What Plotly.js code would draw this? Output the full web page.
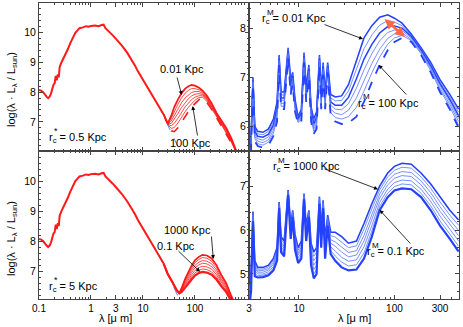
<!DOCTYPE html>
<html>
<head>
<meta charset="utf-8">
<script src="https://cdn.plot.ly/plotly-3.0.1.min.js"></script>
<style>
  html, body { margin: 0; padding: 0; background: #fff; }
  #plot { width: 463px; height: 327px; }
</style>
</head>
<body>
<div id="plot"></div>
<script>
// stellar part, same in both left panels (lambda in micron, log L)
var starWl = [0.1,0.11,0.12,0.13,0.14,0.15,0.16,0.17,0.18,0.19,0.2,0.21,0.22,0.23,0.24,0.25,0.27,0.29,0.31,0.33,0.36,0.4,0.45,0.5,0.55,0.6,0.7,0.8,0.9,1.0,1.2,1.4,1.6,1.75,1.9,2.2,2.6,3.0,3.5,4.0,5.0,6.0,7.0,8.0,9.0,10,12,14,16,18,20,22,25];
var starLum = [8.07,8.05,8.0,7.9,7.85,7.8,7.85,7.95,8.15,8.25,8.3,8.55,8.4,8.6,8.5,8.85,9.0,9.1,9.2,9.3,9.45,9.65,9.85,10.0,10.08,10.15,10.18,10.22,10.2,10.23,10.24,10.22,10.26,10.27,10.15,10.05,9.92,9.8,9.67,9.55,9.32,9.1,8.9,8.7,8.55,8.45,8.22,8.02,7.85,7.7,7.55,7.42,7.25];

// stars only (blue dashed)
var bareWl = [20, 30, 40, 52];
var bareLum = [7.55, 6.9, 6.45, 6.0];

// top left: r*c = 0.5 Kpc, rMc from 0.01 (top) to 100 Kpc (bottom)
var tlWl = [25,30,35,40,47,55,65,75,86,100,120,140,170,210,260,320,400,500,600,700];
var tlLum = [
  [7.25,6.95,7.20,7.50,7.75,7.96,8.12,8.20,8.24,8.22,8.15,8.05,7.88,7.62,7.30,7.05,6.80,6.45,6.12,5.80],
  [7.25,6.94,7.12,7.36,7.59,7.80,7.97,8.06,8.12,8.12,8.08,8.01,7.84,7.59,7.28,7.03,6.76,6.43,6.10,5.79],
  [7.25,6.93,7.03,7.22,7.43,7.64,7.81,7.92,7.99,8.02,8.02,7.96,7.80,7.55,7.25,7.00,6.73,6.40,6.08,5.78],
  [7.25,6.93,6.95,7.09,7.28,7.48,7.66,7.78,7.87,7.93,7.95,7.92,7.77,7.52,7.23,6.98,6.69,6.38,6.06,5.78],
  [7.25,6.92,6.87,6.95,7.12,7.32,7.51,7.63,7.75,7.83,7.88,7.88,7.73,7.49,7.20,6.95,6.65,6.35,6.04,5.77],
  [7.25,6.91,6.78,6.81,6.96,7.16,7.35,7.49,7.62,7.73,7.82,7.83,7.69,7.45,7.18,6.93,6.62,6.33,6.02,5.76],
  [7.25,6.90,6.70,6.67,6.80,7.00,7.20,7.35,7.50,7.63,7.75,7.79,7.65,7.42,7.15,6.90,6.58,6.30,6.00,5.75]
];

// bottom left: r*c = 5 Kpc, rMc from 1000 Kpc (top) to 0.1 Kpc (bottom)
var blWl = [25,30,35,40,45,50,55,65,75,86,100,120,140,170,210,260,320,400,500,600,700];
var blLum = [
  [7.25,6.90,6.70,6.50,6.35,6.27,6.42,6.75,7.00,7.18,7.36,7.48,7.54,7.52,7.42,7.20,6.88,6.60,6.18,5.87,5.60],
  [7.25,6.90,6.70,6.50,6.35,6.27,6.40,6.70,6.93,7.10,7.28,7.39,7.45,7.43,7.33,7.12,6.82,6.55,6.15,5.85,5.58],
  [7.25,6.90,6.70,6.50,6.35,6.27,6.38,6.65,6.87,7.03,7.19,7.30,7.35,7.33,7.24,7.04,6.75,6.50,6.12,5.83,5.57],
  [7.25,6.90,6.70,6.50,6.35,6.26,6.36,6.60,6.80,6.95,7.11,7.21,7.26,7.24,7.15,6.96,6.69,6.45,6.09,5.81,5.55],
  [7.25,6.90,6.70,6.50,6.35,6.26,6.34,6.55,6.73,6.87,7.02,7.12,7.16,7.14,7.06,6.88,6.63,6.40,6.06,5.79,5.53],
  [7.25,6.90,6.70,6.50,6.35,6.26,6.32,6.50,6.67,6.80,6.94,7.03,7.07,7.05,6.97,6.80,6.56,6.35,6.03,5.77,5.52],
  [7.25,6.90,6.70,6.50,6.35,6.26,6.30,6.45,6.60,6.72,6.85,6.94,6.97,6.95,6.88,6.72,6.50,6.30,6.00,5.75,5.50]
];

// right panels, mid/far IR
var irWl = [3.0,3.15,3.3,3.45,3.7,4.2,4.8,5.4,5.9,6.2,6.5,7.0,7.7,8.2,8.6,9.1,9.8,10.6,11.3,11.9,12.7,13.4,14.3,15.3,16.4,17.1,17.9,18.8,20.0,21.5,24,28,33,40,48,58,70,85,100,120,150,190,240,300,380,470];

// top right: rMc from 0.01 (top) to 100 Kpc (bottom, dashed)
var trLum = [
  [5.35,5.75,7.00,6.00,5.90,5.88,5.95,6.15,6.50,7.45,6.70,6.70,7.60,6.95,7.10,6.55,6.20,6.35,7.50,6.80,7.25,6.40,6.15,6.30,7.45,6.70,7.30,6.70,7.30,6.65,6.60,6.62,6.85,7.35,7.80,8.05,8.22,8.27,8.20,8.10,7.88,7.60,7.30,6.95,6.65,6.35],
  [5.31,5.71,6.98,5.95,5.85,5.83,5.90,6.09,6.43,7.42,6.64,6.64,7.57,6.90,7.06,6.51,6.18,6.31,7.47,6.75,7.21,6.35,6.10,6.24,7.42,6.64,7.26,6.64,7.27,6.58,6.52,6.53,6.72,7.16,7.58,7.86,8.06,8.15,8.12,8.05,7.85,7.58,7.27,6.91,6.60,6.29],
  [5.27,5.67,6.95,5.90,5.80,5.78,5.84,6.03,6.37,7.38,6.58,6.58,7.53,6.85,7.02,6.47,6.15,6.27,7.43,6.70,7.17,6.30,6.05,6.18,7.38,6.58,7.22,6.58,7.23,6.50,6.43,6.43,6.59,6.97,7.37,7.67,7.90,8.03,8.04,8.00,7.83,7.55,7.23,6.87,6.55,6.22],
  [5.23,5.63,6.93,5.85,5.75,5.72,5.79,5.98,6.30,7.35,6.53,6.53,7.50,6.80,6.98,6.43,6.13,6.23,7.40,6.65,7.13,6.25,6.00,6.13,7.35,6.53,7.18,6.53,7.20,6.43,6.35,6.34,6.46,6.78,7.15,7.48,7.74,7.91,7.96,7.95,7.80,7.53,7.20,6.83,6.50,6.16],
  [5.18,5.58,6.90,5.80,5.70,5.67,5.73,5.92,6.23,7.32,6.47,6.47,7.47,6.75,6.93,6.38,6.10,6.18,7.37,6.60,7.08,6.20,5.95,6.07,7.32,6.47,7.13,6.47,7.17,6.35,6.27,6.24,6.33,6.58,6.93,7.28,7.57,7.79,7.88,7.90,7.77,7.50,7.17,6.78,6.45,6.10],
  [5.14,5.54,6.88,5.75,5.65,5.62,5.68,5.86,6.17,7.28,6.41,6.41,7.43,6.70,6.89,6.34,6.08,6.14,7.33,6.55,7.04,6.15,5.90,6.01,7.28,6.41,7.09,6.41,7.13,6.28,6.18,6.15,6.20,6.39,6.72,7.09,7.41,7.67,7.80,7.85,7.75,7.48,7.13,6.74,6.40,6.03],
  [5.10,5.50,6.85,5.70,5.60,5.57,5.62,5.80,6.10,7.25,6.35,6.35,7.40,6.65,6.85,6.30,6.05,6.10,7.30,6.50,7.00,6.10,5.85,5.95,7.25,6.35,7.05,6.35,7.10,6.20,6.10,6.05,6.07,6.20,6.50,6.90,7.25,7.55,7.72,7.80,7.72,7.45,7.10,6.70,6.35,5.97]
];

// bottom right: rMc from 1000 Kpc (top) to 0.1 Kpc (bottom)
var brLum = [
  [4.60,5.00,6.42,5.30,5.15,5.15,5.20,5.35,5.60,6.64,5.85,5.75,6.91,6.10,6.45,5.90,5.60,5.75,6.83,6.10,6.45,5.70,5.50,5.60,6.76,6.00,6.68,5.80,6.34,5.95,5.95,5.85,5.70,5.75,6.15,6.60,7.00,7.30,7.45,7.52,7.50,7.30,7.05,6.75,6.45,6.23],
  [4.53,4.93,6.38,5.24,5.11,5.11,5.16,5.31,5.55,6.62,5.79,5.69,6.89,6.05,6.43,5.84,5.54,5.68,6.81,6.04,6.43,5.62,5.40,5.50,6.73,5.93,6.65,5.73,6.30,5.87,5.84,5.73,5.60,5.64,6.02,6.48,6.91,7.21,7.36,7.43,7.41,7.21,6.95,6.64,6.34,6.11],
  [4.47,4.87,6.35,5.18,5.07,5.08,5.12,5.26,5.50,6.59,5.73,5.63,6.87,6.00,6.40,5.78,5.48,5.62,6.79,5.98,6.40,5.53,5.30,5.40,6.71,5.87,6.62,5.65,6.26,5.78,5.73,5.62,5.49,5.53,5.88,6.35,6.82,7.12,7.27,7.33,7.31,7.12,6.85,6.53,6.23,5.99],
  [4.40,4.80,6.31,5.13,5.04,5.04,5.09,5.22,5.45,6.57,5.68,5.58,6.86,5.95,6.38,5.73,5.43,5.55,6.77,5.93,6.38,5.45,5.20,5.30,6.68,5.80,6.59,5.58,6.22,5.70,5.63,5.50,5.39,5.43,5.75,6.23,6.73,7.03,7.18,7.24,7.22,7.03,6.75,6.43,6.13,5.87],
  [4.33,4.73,6.27,5.07,5.00,5.00,5.05,5.17,5.40,6.55,5.62,5.52,6.84,5.90,6.35,5.67,5.37,5.48,6.74,5.87,6.35,5.37,5.10,5.20,6.65,5.73,6.56,5.50,6.18,5.62,5.52,5.38,5.29,5.32,5.62,6.10,6.63,6.93,7.08,7.14,7.12,6.93,6.65,6.32,6.02,5.75],
  [4.27,4.67,6.24,5.01,4.96,4.97,5.01,5.13,5.35,6.52,5.56,5.46,6.82,5.85,6.33,5.61,5.31,5.42,6.72,5.81,6.33,5.28,5.00,5.10,6.63,5.67,6.53,5.43,6.14,5.53,5.41,5.27,5.18,5.21,5.48,5.98,6.54,6.84,6.99,7.05,7.03,6.84,6.55,6.21,5.91,5.63],
  [4.20,4.60,6.20,4.95,4.92,4.93,4.97,5.08,5.30,6.50,5.50,5.40,6.80,5.80,6.30,5.55,5.25,5.35,6.70,5.75,6.30,5.20,4.90,5.00,6.60,5.60,6.50,5.35,6.10,5.45,5.30,5.15,5.08,5.10,5.35,5.85,6.45,6.75,6.90,6.95,6.93,6.75,6.45,6.10,5.80,5.51]
];

var RED = 'rgb(255,25,25)';
var BLUE = 'rgb(35,65,255)';
var BLUE_THIN = 'rgb(85,115,255)';

var data = [];

function addLine(x, y, xa, ya, color, width, dash) {
  data.push({
    x: x, y: y, xaxis: xa, yaxis: ya,
    type: 'scatter', mode: 'lines', hoverinfo: 'skip',
    line: {color: color, width: width, dash: dash || 'solid'}
  });
}

// left panels
addLine(bareWl, bareLum, 'x', 'y', 'rgb(110,130,255)', 1, 'dash');
addLine(bareWl, bareLum, 'x3', 'y3', 'rgb(110,130,255)', 1, 'dash');
for (var i = 0; i < tlLum.length; i++) {
  var w = (i == 0) ? 1.8 : 0.8;
  addLine(tlWl, tlLum[i], 'x', 'y', RED, (i == 6) ? 1.6 : w, (i == 6) ? 'dash' : 'solid');
}
for (var i = 0; i < blLum.length; i++) {
  var w = (i == 0) ? 1.7 : (i == 6 ? 2.2 : 0.8);
  addLine(blWl, blLum[i], 'x3', 'y3', RED, w);
}
addLine(starWl, starLum, 'x', 'y', RED, 2);
addLine(starWl, starLum, 'x3', 'y3', RED, 2);

// right panels
for (var i = 0; i < trLum.length; i++) {
  if (i == 6) addLine(irWl, trLum[i], 'x2', 'y2', BLUE, 1.8, 'dash');
  else if (i == 2 || i == 0) addLine(irWl, trLum[i], 'x2', 'y2', BLUE, 1.5);
  else addLine(irWl, trLum[i], 'x2', 'y2', BLUE_THIN, 0.8);
}
for (var i = 0; i < brLum.length; i++) {
  if (i == 6) addLine(irWl, brLum[i], 'x4', 'y4', BLUE, 2.2);
  else if (i == 0) addLine(irWl, brLum[i], 'x4', 'y4', BLUE, 1.6);
  else addLine(irWl, brLum[i], 'x4', 'y4', BLUE_THIN, 0.8);
}

var W = 463, H = 327;
function px(v) { return v / W; }
function py(v) { return 1 - v / H; }

var FONT = 'Liberation Sans, Arial, sans-serif';
var AX = '#444';

function xAxis(dom, anchor, range, vals, minorVals, labels) {
  return {
    type: 'log', domain: dom, anchor: anchor, range: range,
    tickmode: 'array', tickvals: vals, ticktext: vals.map(String),
    showticklabels: labels, ticks: 'inside', ticklen: 4, tickcolor: AX,
    minor: {tickmode: 'array', tickvals: minorVals, ticks: 'inside', ticklen: 2, tickcolor: AX},
    showline: true, linecolor: AX, linewidth: 1, mirror: 'ticks',
    showgrid: false, zeroline: false,
    tickfont: {family: FONT, size: 10, color: '#000'}
  };
}
function yAxis(dom, anchor, range, vals) {
  return {
    domain: dom, anchor: anchor, range: range,
    tickmode: 'array', tickvals: vals,
    ticks: 'inside', ticklen: 4, tickcolor: AX,
    minor: {dtick: 0.2, ticks: 'inside', ticklen: 2, tickcolor: AX},
    showline: true, linecolor: AX, linewidth: 1, mirror: 'ticks',
    showgrid: false, zeroline: false,
    tickfont: {family: FONT, size: 10.5, color: '#000'}
  };
}

var leftDom = [px(39), px(249)];
var rightDom = [px(249), px(459)];
var topDom = [py(151), py(3)];
var botDom = [py(299), py(151)];

var leftTicks = [0.1, 1, 3, 10, 100];
var leftMinor = [0.2,0.3,0.4,0.5,0.6,0.7,0.8,0.9,2,4,5,6,7,8,9,20,30,40,50,60,70,80,90,200,300,400,500,600,700,800,900];
var rightTicks = [3, 10, 100, 300];
var rightMinor = [4,5,6,7,8,9,20,30,40,50,60,70,80,90,200,400];

var leftRange = [-1, 3.04];
var rightRange = [0.477, 2.676];

var anns = [];
function txt(x, y, s, size) {
  anns.push({xref: 'paper', yref: 'paper', x: px(x), y: py(y), text: s, showarrow: false,
    xanchor: 'left', yanchor: 'middle', font: {family: FONT, size: size || 11, color: '#000'}});
}
function arrow(tx, ty, dx, dy) {
  anns.push({xref: 'paper', yref: 'paper', x: px(tx), y: py(ty), ax: dx, ay: dy, text: '',
    showarrow: true, arrowhead: 2, arrowsize: 1, arrowwidth: 0.8, arrowcolor: '#000', standoff: 0});
}
// r_c with a mark stacked above the c
function rc(x, y, mark, rest) {
  txt(x, y, 'r<sub>c</sub> ' + rest, 11);
  txt(x + 4.5, y - 7, mark, mark == '*' ? 9 : 8);
}

// top left
txt(158, 69, '0.01 Kpc'); arrow(181.7, 95, -5, -19);
txt(168, 143, '100 Kpc'); arrow(192.7, 106, 5, 31);
rc(47, 138, '*', '= 0.5 Kpc');
// top right
rc(260, 19, 'M', '= 0.01 Kpc'); arrow(363, 39, -40, -15);
rc(356, 104, 'M', '= 100 Kpc'); arrow(378.7, 65, 29, 31);
// bottom left
txt(162, 230, '1000 Kpc'); arrow(213.3, 259, -2, -24);
txt(155, 246, '0.1 Kpc'); arrow(200, 271.7, -23, -22);
rc(47, 287, '*', '= 5 Kpc');
// bottom right
rc(271, 167, 'M', '= 1000 Kpc'); arrow(378, 189.3, -55, -21);
rc(365, 252, 'M', '= 0.1 Kpc'); arrow(379.7, 210, 32, 35);

// orange double arrow between the peaks
anns.push({xref: 'x2', yref: 'y2', axref: 'x2', ayref: 'y2',
  x: Math.log10(129), y: 7.82, ax: Math.log10(76), ay: 8.21, text: '',
  showarrow: true, arrowhead: 2, startarrowhead: 2, arrowside: 'end+start',
  arrowsize: 0.8, startarrowsize: 0.8, arrowwidth: 2.5, arrowcolor: 'rgb(255,105,70)'});

// axis titles
var ytitle = 'log(λ · L<sub>λ</sub> / L<sub>sun</sub>)';
function title(x, y, s, angle) {
  anns.push({xref: 'paper', yref: 'paper', x: px(x), y: py(y), text: s, textangle: angle,
    xanchor: 'center', yanchor: 'middle', showarrow: false,
    font: {family: FONT, size: 11, color: '#000'}});
}
title(12, 90, ytitle, -90);
title(12, 239, ytitle, -90);
title(116, 318, 'λ [μ m]', 0);
title(354, 318, 'λ [μ m]', 0);

var layout = {
  width: W, height: H,
  margin: {l: 0, r: 0, t: 0, b: 0},
  paper_bgcolor: '#fff', plot_bgcolor: '#fff',
  showlegend: false,
  xaxis: xAxis(leftDom, 'y', leftRange, leftTicks, leftMinor, false),
  yaxis: yAxis(topDom, 'x', [6.02, 11.0], [7, 8, 9, 10]),
  xaxis2: xAxis(rightDom, 'y2', rightRange, rightTicks, rightMinor, false),
  yaxis2: yAxis(topDom, 'x2', [5.5, 8.51], [6, 7, 8]),
  xaxis3: xAxis(leftDom, 'y3', leftRange, leftTicks, leftMinor, true),
  yaxis3: yAxis(botDom, 'x3', [6.07, 11.0], [7, 8, 9, 10]),
  xaxis4: xAxis(rightDom, 'y4', rightRange, rightTicks, rightMinor, true),
  yaxis4: yAxis(botDom, 'x4', [4.43, 7.8], [5, 6, 7]),
  annotations: anns
};

Plotly.newPlot('plot', data, layout, {staticPlot: true});
</script>
</body>
</html>
